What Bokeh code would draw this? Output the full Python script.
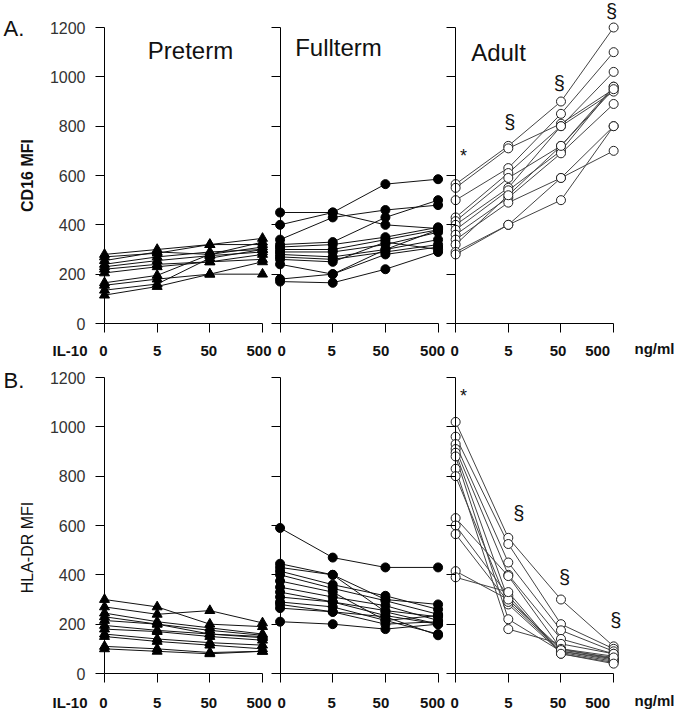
import math
from bokeh.plotting import figure
from bokeh.layouts import column
from bokeh.models import LinearAxis, FixedTicker, Range1d
from bokeh.core.properties import value
from bokeh.embed import file_html
from bokeh.resources import INLINE

# ---------------- data ----------------
doses = ["0", "5", "50", "500"]
groups = ["Preterm", "Fullterm", "Adult"]
y_ticks = [0, 200, 400, 600, 800, 1000, 1200]

cd16_preterm = [
    [280, 300, 320, 345],
    [270, 285, 320, 320],
    [255, 290, 280, 310],
    [240, 270, 290, 300],
    [230, 255, 275, 290],
    [220, 240, 250, 280],
    [205, 230, 250, 260],
    [165, 195, 280, 330],
    [155, 180, 200, 200],
    [135, 160, 265, 300],
    [115, 150, 200, 250],
]
cd16_fullterm = [
    [450, 450, 400, 385],
    [400, 450, 565, 585],
    [340, 430, 460, 480],
    [320, 330, 430, 500],
    [310, 320, 350, 390],
    [300, 300, 340, 380],
    [290, 290, 320, 370],
    [280, 270, 300, 340],
    [270, 260, 290, 320],
    [260, 250, 330, 300],
    [240, 200, 280, 310],
    [180, 200, 300, 380],
    [170, 165, 220, 290],
]
cd16_adult = [
    [565, 720, 900, 1200],
    [550, 710, 810, 950],
    [500, 630, 850, 1100],
    [430, 610, 800, 1020],
    [415, 590, 720, 960],
    [400, 550, 800, 940],
    [380, 540, 700, 960],
    [360, 510, 690, 890],
    [340, 490, 590, 800],
    [320, 520, 720, 950],
    [290, 400, 590, 700],
    [280, 400, 500, 800],
]
hla_preterm = [
    [300, 270, 200, 190],
    [270, 240, 255, 205],
    [245, 210, 185, 160],
    [230, 200, 175, 155],
    [215, 200, 160, 150],
    [195, 175, 160, 145],
    [180, 170, 150, 135],
    [160, 140, 125, 115],
    [150, 130, 115, 100],
    [110, 100, 85, 90],
    [100, 90, 80, 90],
]
hla_fullterm = [
    [590, 470, 430, 430],
    [445, 400, 300, 280],
    [430, 400, 250, 200],
    [415, 360, 315, 260],
    [400, 345, 295, 240],
    [375, 330, 215, 160],
    [350, 310, 275, 215],
    [330, 290, 255, 230],
    [310, 290, 235, 200],
    [290, 270, 215, 235],
    [280, 250, 200, 210],
    [265, 250, 230, 155],
    [210, 200, 180, 200],
]
hla_adult = [
    [1020, 550, 300, 110],
    [960, 525, 200, 100],
    [930, 450, 175, 90],
    [910, 400, 140, 80],
    [895, 300, 100, 70],
    [880, 220, 90, 60],
    [830, 180, 120, 80],
    [800, 280, 85, 50],
    [630, 395, 100, 60],
    [600, 315, 80, 45],
    [565, 290, 90, 55],
    [415, 300, 95, 65],
    [390, 330, 80, 40],
]

# significance marks in the adult group: (position in dose steps, y value, symbol)
marks_cd16 = [(0.15, 680, "*"), (1.03, 815, "§"), (1.97, 975, "§"), (2.96, 1265, "§")]
marks_hla = [(0.15, 1125, "*"), (1.2, 650, "§"), (2.07, 390, "§"), (3.04, 215, "§")]

# ---------------- layout ----------------
FONT = value("Liberation Sans")
W = 677
STEP = 30            # x units per dose step
GOFF = 100           # x units between groups
PXU = 52.67 / STEP   # px per x unit
X0PX = 104           # canvas px of first group's zero
SY = 296 / 1200      # px per y unit
x_start = -X0PX / PXU
x_end = x_start + W / PXU
# horizontal nudge (px) of dose labels relative to their ticks, per group
LABEL_SHIFT = [[-1, 0, -1, -3.5], [1.5, -1, -4.5, -5.5], [-1, 0, -3, -16]]


def xd(px):
    return x_start + px / PXU


def make_panel(datasets, height, top_px, letter, letter_y, ylabel, ylabel_y, ylabel_bold,
               il_y, marks, titles):
    y_end = 1200 + top_px / SY
    y_start = y_end - height / SY

    def yd(py):
        return y_end - py / SY

    p = figure(width=W, height=height, output_backend="svg", toolbar_location=None,
               x_axis_type=None, y_axis_type=None, title=None,
               x_range=Range1d(x_start, x_end), y_range=Range1d(y_start, y_end),
               min_border=0, outline_line_color=None)
    p.grid.visible = False

    styles = [
        dict(marker="triangle", size=10, fill_color="black", line_color="black", lc="#111111"),
        dict(marker="circle", size=9, fill_color="black", line_color="black", lc="#111111"),
        dict(marker="circle", size=9, fill_color="white", line_color="#222222", lc="#444444"),
    ]

    for g, data in enumerate(datasets):
        xs_pos = [g * GOFF + i * STEP for i in range(len(doses))]
        st = styles[g]
        p.multi_line([xs_pos] * len(data), data, line_color=st["lc"], line_width=1)
        px, py = [], []
        for row in data:
            px.extend(xs_pos)
            py.extend(row)
        p.scatter(px, py, marker=st["marker"], size=st["size"],
                  fill_color=st["fill_color"], line_color=st["line_color"], line_width=1)

        yax = LinearAxis(fixed_location=g * GOFF, bounds=(0, 1200),
                         ticker=FixedTicker(ticks=y_ticks))
        yax.major_tick_out = 9
        yax.major_tick_in = 0
        yax.minor_tick_out = 0
        yax.minor_tick_in = 0
        yax.axis_line_color = "black"
        yax.major_tick_line_color = "black"
        yax.major_label_standoff = 10
        yax.major_label_text_font = "Liberation Sans"
        yax.major_label_text_font_size = "16px"
        yax.major_label_text_color = "#333333" if g == 0 else None
        p.add_layout(yax, "left")

        xax = LinearAxis(fixed_location=0, bounds=(xs_pos[0], xs_pos[-1]),
                         ticker=FixedTicker(ticks=xs_pos))
        xax.major_tick_out = 9
        xax.major_tick_in = 0
        xax.minor_tick_out = 0
        xax.minor_tick_in = 0
        xax.axis_line_color = "black"
        xax.major_label_text_color = None
        xax.major_label_text_font_size = "1px"
        p.add_layout(xax, "below")

        # dose labels drawn as text so they can sit as in the original
        lx = [xp + s / PXU for xp, s in zip(xs_pos, LABEL_SHIFT[g])]
        p.text(lx, [yd(il_y)] * len(doses), text=doses, text_font=FONT,
               text_font_size="15px", text_font_style="bold", text_align="center",
               text_baseline="middle", text_color="#111111")

    # letter
    p.text([xd(3)], [yd(letter_y)], text=[letter], text_font=FONT, text_font_size="22px",
           text_align="left", text_baseline="middle", text_color="#111111")
    # y label
    p.text([xd(27)], [yd(ylabel_y)], text=[ylabel], text_font=FONT,
           text_font_size="16px", text_font_style="bold" if ylabel_bold else "normal",
           angle=math.pi / 2, text_align="center", text_baseline="middle", text_color="#111111")
    # IL-10 and ng/ml
    p.text([xd(87)], [yd(il_y)], text=["IL-10"], text_font=FONT, text_font_size="15px",
           text_font_style="bold", text_align="right", text_baseline="middle", text_color="#111111")
    p.text([xd(634)], [yd(il_y - 2)], text=["ng/ml"], text_font=FONT, text_font_size="15px",
           text_font_style="bold", text_align="left", text_baseline="middle", text_color="#111111")
    # group titles
    for (cx, cy), name in titles:
        p.text([xd(cx)], [yd(cy)], text=[name], text_font=FONT, text_font_size="24px",
               text_align="center", text_baseline="middle", text_color="#111111")
    # significance marks (in the adult group)
    for pos, yv, sym in marks:
        p.text([2 * GOFF + pos * STEP], [yv], text=[sym], text_font=FONT,
               text_font_size="20px" if sym == "§" else "18px",
               text_align="center", text_baseline="middle", text_color="#111111")
    return p


pA = make_panel([cd16_preterm, cd16_fullterm, cd16_adult], 360, 27, "A.", 28,
                "CD16 MFI", 175, True, 350, marks_cd16,
                [((190, 50), groups[0]), ((338, 47), groups[1]), ((498, 52), groups[2])])
pB = make_panel([hla_preterm, hla_fullterm, hla_adult], 356, 17, "B.", 20,
                "HLA-DR MFI", 187, False, 342, marks_hla, [])

layout = column(pA, pB, spacing=0)
open("out.html", "w").write(file_html(layout, INLINE))
